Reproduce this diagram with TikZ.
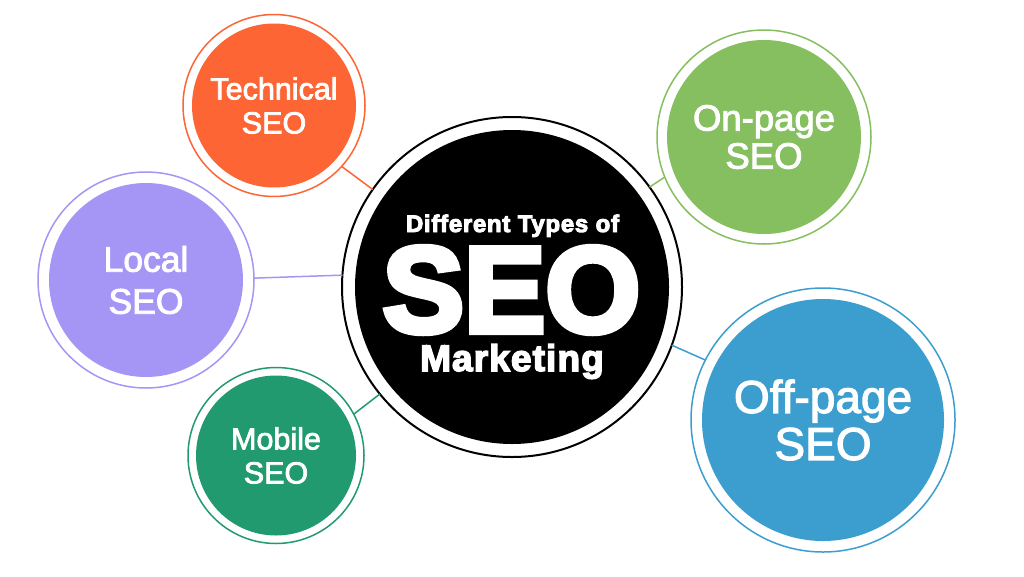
\documentclass[tikz,border=0pt]{standalone}
\usepackage{fontspec}
\setmainfont{Liberation Sans}
\newfontfamily\satfont{Liberation Sans}[FakeBold=2.5]
\newfontfamily\heavyfont{Liberation Sans}[UprightFont={* Bold}, FakeBold=5]
\newfontfamily\heavysmall{Liberation Sans}[UprightFont={* Bold}, FakeBold=4, LetterSpace=3]
\definecolor{techc}{HTML}{FD6535}
\definecolor{localc}{HTML}{A596F6}
\definecolor{mobc}{HTML}{229A70}
\definecolor{onc}{HTML}{86BF60}
\definecolor{offc}{HTML}{3B9ECF}
\begin{document}
\begin{tikzpicture}[x=1pt,y=-1pt,
  ring/.style={circle, draw, line width=1.5pt, inner sep=0pt, outer sep=0pt, fill=white},
  disc/.style={circle, inner sep=0pt, outer sep=0pt, text=white, align=center},
  link/.style={line width=1.5pt},
  heavy/.style={text=white, inner sep=0pt, anchor=base}]
\useasboundingbox[fill=white] (0,0) rectangle (1024,576);

% central
\node[ring, draw=black, line width=2pt, minimum size=340pt] (seo) at (512,287) {};
\node[disc, fill=black, minimum size=314pt] (seoin) at (512,287) {};
\node[heavy, font=\heavysmall\fontsize{24}{24}\selectfont] (t1) at (512.5,232) {Different Types of};
\node[heavy, font=\heavyfont\fontsize{122}{122}\selectfont] (t2) at (511.5,332) {SEO};
\node[heavy, font=\heavysmall\fontsize{37}{37}\selectfont] (t3) at (512,371) {Marketing};

% satellites
\node[ring, draw=techc, minimum size=182pt] (tech) at (274,105.5) {};
\node[disc, fill=techc, minimum size=164pt, font=\satfont\fontsize{30.5}{34}\selectfont] (techin) at (274,105.5) {Technical\\SEO};

\node[ring, draw=localc, minimum size=216pt] (local) at (146,280) {};
\node[disc, fill=localc, minimum size=194pt, font=\satfont\fontsize{35.5}{42}\selectfont] (localin) at (146,280) {Local\\SEO};

\node[ring, draw=mobc, minimum size=176pt] (mob) at (276,455.5) {};
\node[disc, fill=mobc, minimum size=160pt, font=\satfont\fontsize{30.5}{34}\selectfont] (mobin) at (276,455.5) {Mobile\\SEO};

\node[ring, draw=onc, minimum size=214pt] (on) at (764,137) {};
\node[disc, fill=onc, minimum size=194pt, font=\satfont\fontsize{36.5}{38}\selectfont] (onin) at (764,137) {On-page\\SEO};

\node[ring, draw=offc, minimum size=264pt] (off) at (823,420) {};
\node[disc, fill=offc, minimum size=242pt, font=\satfont\fontsize{46}{47}\selectfont] (offin) at (823,420) {Off-page\\SEO};

% connectors
\draw[link, draw=techc] (tech.-42.6) -- (seo.145.7);
\draw[link, draw=localc] (local.1) -- (seo.176.6);
\draw[link, draw=mobc] (mob.28.3) -- (seo.219.8);
\draw[link, draw=onc] (on.202.5) -- (seo.36.9);
\draw[link, draw=offc] (off.153.4) -- (seo.-20.6);
\end{tikzpicture}
\end{document}
